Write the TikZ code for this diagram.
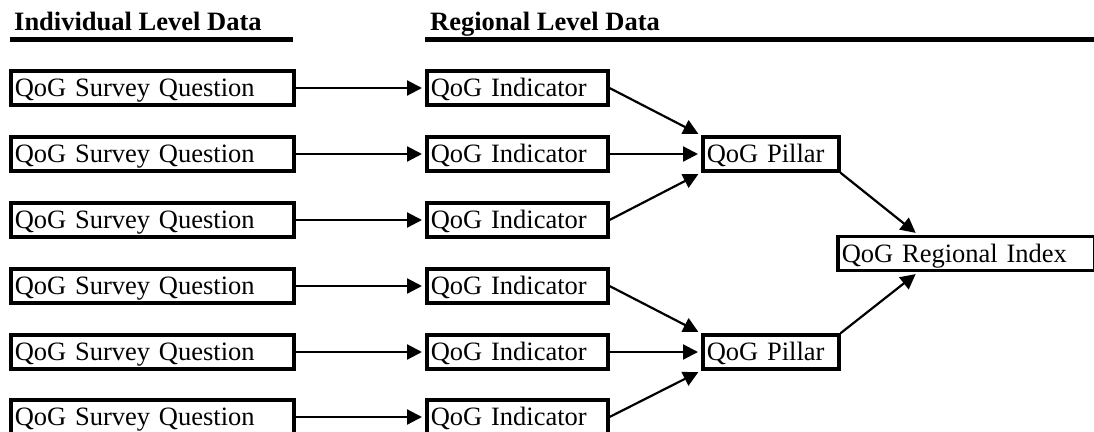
\documentclass[tikz,border=0pt]{standalone}
\usepackage{fontspec}
\setmainfont{Liberation Serif}
\usetikzlibrary{arrows.meta}
\begin{document}
\begin{tikzpicture}[x=1pt,y=-1pt,
  box/.style={draw, line width=3.5pt, anchor=west, minimum height=34pt, inner xsep=4pt, inner ysep=0pt, text height=24pt, text depth=7pt, align=left, font=\fontsize{26.5}{28}\selectfont},
  hdr/.style={anchor=base west, inner sep=0pt, font=\fontsize{26.5}{28}\selectfont\bfseries},
  arr/.style={line width=2.2pt, -{Triangle[length=15pt,width=15pt]}, shorten >=3pt}]
\useasboundingbox (0,0) rectangle (1094,431);
\node[hdr] (h1) at (14,30) {Individual Level Data};
\node[hdr] (h2) at (430,30) {Regional Level Data};
\draw[line width=5pt] (10,39.5) -- (293,39.5);
\draw[line width=5pt] (425,39.5) -- (1094,39.5);
\foreach \i/\y in {1/88,2/154,3/220,4/286,5/352,6/417}{
  \node[box, text width=275pt] (s\i) at (9,\y) {QoG Survey Question};
  \node[box, text width=173pt] (n\i) at (425,\y) {QoG Indicator};
  \draw[arr] (s\i.east) -- (n\i.west);
}
\node[box, text width=128pt] (p1) at (701,154) {QoG Pillar};
\node[box, text width=128pt] (p2) at (701,352) {QoG Pillar};
\node[box, text width=249pt] (idx) at (836,253.5) {QoG Regional Index};
\draw[arr] (n1.east) -- (p1.north west);
\draw[arr] (n2.east) -- (p1.west);
\draw[arr] (n3.east) -- (p1.south west);
\draw[arr] (n4.east) -- (p2.north west);
\draw[arr] (n5.east) -- (p2.west);
\draw[arr] (n6.east) -- (p2.south west);
\draw[arr] (p1.south east) -- ([xshift=82pt]idx.north west);
\draw[arr] (p2.north east) -- ([xshift=82pt]idx.south west);
\end{tikzpicture}
\end{document}
